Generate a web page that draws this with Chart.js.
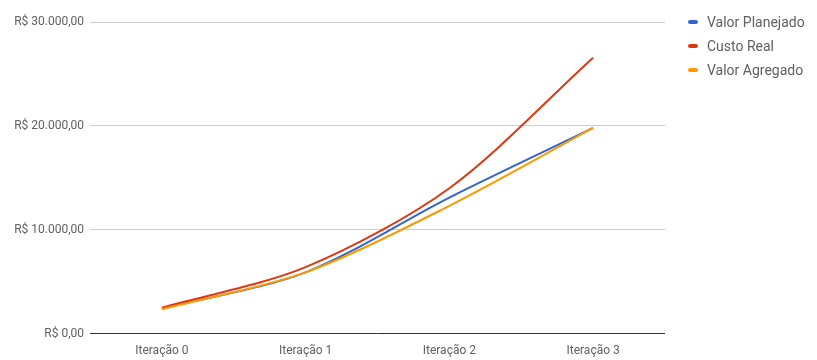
<!DOCTYPE html>
<html>
<head>
<meta charset="utf-8">
<script src="https://cdn.jsdelivr.net/npm/chart.js@4/dist/chart.umd.min.js"></script>
<style>
  html, body { margin: 0; padding: 0; background: #fff; }
  #wrap { width: 817px; height: 360px; position: relative; font-family: Roboto, Arial, sans-serif; }
  #legenda { position: absolute; left: 688px; top: 12px; margin: 0; padding: 0; list-style: none; }
  #legenda li { height: 24px; line-height: 20px; font-size: 14px; color: #5f5f5f; white-space: nowrap; }
  #legenda i { display: inline-block; width: 10px; height: 4px; border-radius: 2px; margin-right: 9px; vertical-align: middle; position: relative; top: -1px; }
</style>
</head>
<body>
<div id="wrap"><canvas id="c" width="817" height="360"></canvas><ul id="legenda"></ul></div>
<script>
// dados
var iteracoes = ['Iteração 0', 'Iteração 1', 'Iteração 2', 'Iteração 3'];
var valorPlanejado = [2400, 5900, 13100, 19800];
var custoReal = [2500, 6400, 14000, 26550];
var valorAgregado = [2350, 5900, 12300, 19800];
var yTicks = [0, 10000, 20000, 30000];

function brl(v) {
  var s = Math.round(v).toString().replace(/\B(?=(\d{3})+(?!\d))/g, '.');
  return 'R$ ' + s + ',00';
}

Chart.defaults.font.family = 'Roboto, Arial, sans-serif';
Chart.defaults.color = '#616161';

function serie(label, data, color, order) {
  return {
    label: label, data: data, borderColor: color, backgroundColor: color,
    borderWidth: 2, pointRadius: 0, tension: 0.3, order: order
  };
}

var chart = new Chart(document.getElementById('c').getContext('2d'), {
  type: 'line',
  data: {
    labels: iteracoes,
    datasets: [
      serie('Valor Planejado', valorPlanejado, '#3366cc', 2),
      serie('Custo Real', custoReal, '#dc3912', 1),
      serie('Valor Agregado', valorAgregado, '#ff9900', 0)
    ]
  },
  options: {
    responsive: false,
    animation: false,
    layout: { padding: { top: 22, right: 152, bottom: 0, left: 0 } },
    plugins: {
      tooltip: { enabled: false },
      legend: { display: false }
    },
    scales: {
      x: {
        offset: true,
        grid: { display: false },
        border: { display: false },
        ticks: { font: { size: 12 }, color: '#616161', padding: 2 }
      },
      y: {
        min: 0, max: 30000,
        afterBuildTicks: function (s) { s.ticks = yTicks.map(function (v) { return { value: v }; }); },
        afterFit: function (s) { s.width = 90; },
        grid: {
          color: function (c) { return c.tick && c.tick.value === 0 ? '#333333' : '#cccccc'; },
          drawTicks: false
        },
        border: { display: false },
        ticks: { font: { size: 12 }, color: '#616161', padding: 6, callback: function (v) { return brl(v); } }
      }
    }
  }
});

// legenda em HTML, na ordem das séries
var ul = document.getElementById('legenda');
chart.data.datasets.forEach(function (d) {
  var li = document.createElement('li');
  var m = document.createElement('i');
  m.style.background = d.borderColor;
  li.appendChild(m);
  li.appendChild(document.createTextNode(d.label));
  ul.appendChild(li);
});
</script>
</body>
</html>
